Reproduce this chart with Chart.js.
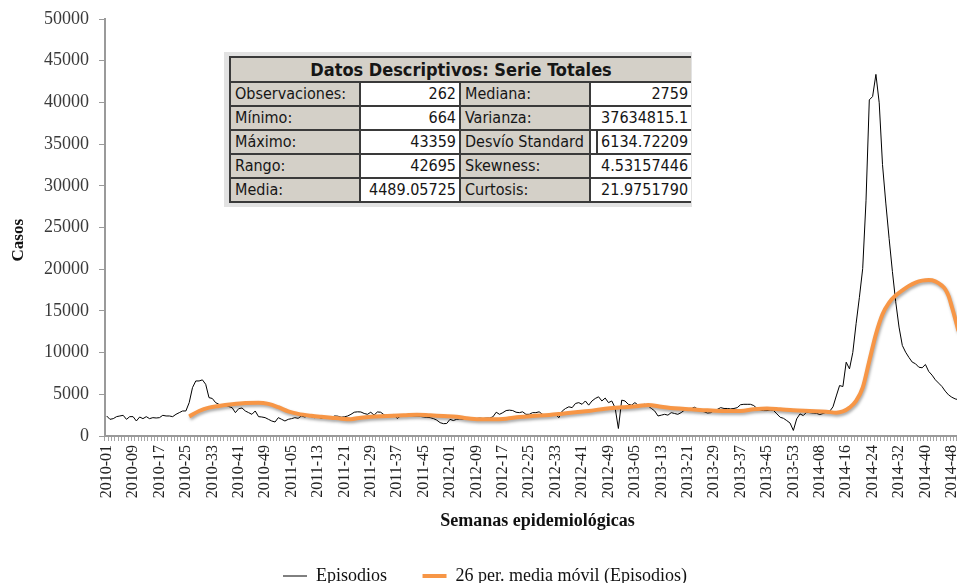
<!DOCTYPE html>
<html>
<head>
<meta charset="utf-8">
<script src="https://cdn.jsdelivr.net/npm/chart.js@4.4.1/dist/chart.umd.min.js"></script>
<style>
html,body{margin:0;padding:0;background:#fff;overflow:hidden;}
#wrap{position:relative;width:975px;height:595px;overflow:hidden;background:#fff;}
#c{position:absolute;left:0;top:0;}
#stats{position:absolute;left:224px;top:52px;width:468px;height:155px;background:#e2e2e2;}
#stats table{position:absolute;left:5px;top:4px;border-collapse:collapse;table-layout:fixed;width:461px;
  font-family:"DejaVu Sans Condensed","DejaVu Sans",sans-serif;font-size:16px;color:#161616;}
#stats th{height:23px;padding:0;background:#d4d0c8;font-weight:bold;font-size:18px;border:2px solid #3a3a3a;text-align:center;border-right:none;}
#stats td{height:22px;padding:0 3px 0 4px;border:2px solid #3a3a3a;white-space:nowrap;overflow:hidden;line-height:22px;}
#stats td.l{background:#d4d0c8;text-align:left;}
#stats td.v{background:#fff;text-align:right;}
#stats td:last-child{border-right:none;}
#stats td.dbl{background:linear-gradient(to right,#fff 0,#fff 5px,#3a3a3a 5px,#3a3a3a 7px,#fff 7px);}
</style>
</head>
<body>
<div id="wrap">
  <canvas id="c" width="975" height="595"></canvas>
  <div id="stats"><table id="stats-table">
    <colgroup><col style="width:130px"><col style="width:100px"><col style="width:130px"><col style="width:101px"></colgroup>
    <tbody id="stats-body"></tbody>
  </table></div>
</div>
<script>
// ---- categories (epidemiological weeks) ----
const years = [2010, 2011, 2012, 2013, 2014];
const weeksInYear = [52, 52, 52, 53, 53];
const weeks = [];
years.forEach((y, k) => {
  for (let w = 1; w <= weeksInYear[k]; w++) weeks.push(y + '-' + String(w).padStart(2, '0'));
});
const tickEvery = 8;

// ---- series: Episodios (weekly cases) ----
const episodios = [
  2400,2000,2080,2320,2400,2480,2000,2320,2320,1800,2280,2080,2320,2080,2200,2160,2200,2480,2400,2400,
  2320,2600,2800,3000,3000,4000,5800,6600,6600,6730,6200,4600,4500,4000,3800,3680,3680,3530,3400,2800,
  3280,3360,3000,2800,2600,3000,2320,2280,2200,2000,1800,1680,2200,2000,1800,2000,2080,2200,2120,2400,
  2280,2400,2320,2200,2280,2120,2200,2300,2200,2400,2380,2250,2300,2400,2600,2850,2900,2880,2700,2600,
  2850,2500,2880,2850,2550,2400,2450,2600,2100,2400,2350,2400,2450,2400,2400,2350,2280,2250,2200,2080,
  1900,1600,1480,1500,2000,1850,2000,2050,2000,2100,2150,2100,2100,2150,2100,2150,2150,2300,2850,2600,
  2800,3050,3100,3050,2850,2800,2900,2600,2600,2800,2800,2900,2600,2500,2450,2500,2550,2200,3000,3300,
  3500,3400,3900,4000,3800,4200,3700,4200,4500,4700,4200,4550,4000,4200,3400,900,4300,4200,3800,3700,
  4000,3700,3750,3800,3600,3300,3000,2400,2500,2600,2500,2800,2700,2600,2800,3100,3200,3250,3450,3250,
  3000,2900,2750,2800,3050,3200,3400,3300,3300,3250,3300,3400,3750,3800,3800,3800,3650,3300,3100,3050,
  3050,3100,3050,2650,2250,2120,1850,1550,664,2050,2650,2450,2850,2800,2750,2720,2570,2700,2850,2960,
  3500,4800,6050,5930,8850,8050,10000,13470,16630,20070,28200,40300,40700,43359,39950,32540,27930,23680,19710,16100,
  13060,10860,10050,9420,8860,8660,8250,8180,8575,7740,7300,6740,6340,5940,5380,4930,4650,4450,4350,
  null,null,null
];

// ---- series: 26 per. media móvil (read at sampled weeks) ----
const maWeeks = [
  '2010-26','2010-29','2010-32','2010-35','2010-39','2010-43','2010-47','2010-50',
  '2011-01','2011-04','2011-07','2011-11','2011-14','2011-17','2011-20','2011-23','2011-26','2011-29',
  '2011-34','2011-39','2011-43','2011-47','2011-51',
  '2012-03','2012-06','2012-10','2012-14','2012-18','2012-22','2012-26','2012-31','2012-35','2012-39',
  '2012-43','2012-48',
  '2013-01','2013-06','2013-09','2013-13','2013-17','2013-22','2013-27','2013-32','2013-37','2013-41',
  '2013-45','2013-49','2013-53',
  '2014-05','2014-10','2014-13','2014-15','2014-17','2014-19','2014-21','2014-23','2014-25','2014-27',
  '2014-29','2014-31','2014-33','2014-35','2014-37','2014-39','2014-41','2014-43','2014-45','2014-46',
  '2014-47','2014-48','2014-49','2014-50'
];
const maValues = [
  2350,3000,3400,3600,3800,3950,4000,3850,
  3450,2950,2650,2420,2300,2200,2080,2020,2200,2320,
  2400,2480,2560,2480,2400,
  2320,2130,2000,2000,2080,2280,2400,2520,2680,2850,
  3000,3280,
  3440,3600,3730,3520,3320,3200,3080,3000,3000,3200,
  3300,3200,3080,
  3000,2920,2800,2950,3400,4200,5800,9000,12200,14600,
  16000,16850,17450,18000,18400,18630,18700,18550,18030,17600,
  16800,15500,14100,12600
];

// ---- axis ----
const yMin = 0, yMax = 50000, yStep = 5000;
const seriesNames = ['Episodios', '26 per. media móvil (Episodios)'];
const axisTitles = { x: 'Semanas epidemiológicas', y: 'Casos' };

// ---- descriptive statistics table ----
const statsTitle = 'Datos Descriptivos: Serie Totales';
const statsLabelsLeft = ['Observaciones:', 'Mínimo:', 'Máximo:', 'Rango:', 'Media:'];
const statsValuesLeft = ['262', '664', '43359', '42695', '4489.05725'];
const statsLabelsRight = ['Mediana:', 'Varianza:', 'Desvío Standard', 'Skewness:', 'Curtosis:'];
const statsValuesRight = ['2759', '37634815.1', '6134.72209', '4.53157446', '21.9751790'];

let html = '<tr><th colspan="4">' + statsTitle + '</th></tr>';
for (let r = 0; r < statsLabelsLeft.length; r++) {
  html += '<tr><td class="l">' + statsLabelsLeft[r] + '</td><td class="v">' + statsValuesLeft[r] +
    '</td><td class="l">' + statsLabelsRight[r] + '</td><td class="v' + (r === 2 ? ' dbl' : '') + '">' +
    statsValuesRight[r] + '</td></tr>';
}
document.getElementById('stats-body').innerHTML = html;

// ---- chart ----
const serif = '"Liberation Serif", "Times New Roman", serif';
const shadowPlugin = {
  id: 'lineShadow',
  beforeDatasetDraw(chart, args) {
    if (args.index === 1) {
      const c = chart.ctx; c.save();
      c.shadowColor = 'rgba(0,0,0,0.35)'; c.shadowBlur = 3; c.shadowOffsetX = 1; c.shadowOffsetY = 2;
    }
  },
  afterDatasetDraw(chart, args) { if (args.index === 1) chart.ctx.restore(); }
};

new Chart(document.getElementById('c'), {
  type: 'line',
  data: {
    labels: weeks,
    datasets: [
      {
        label: seriesNames[0], data: episodios, borderColor: '#000000', backgroundColor: '#000000',
        borderWidth: 1, pointRadius: 0, tension: 0, order: 0
      },
      {
        label: seriesNames[1], data: maWeeks.map((w, i) => ({ x: w, y: maValues[i] })),
        borderColor: '#F79646', backgroundColor: '#F79646', borderWidth: 4, pointRadius: 0,
        cubicInterpolationMode: 'monotone', order: -1
      }
    ]
  },
  plugins: [shadowPlugin],
  options: {
    responsive: false,
    maintainAspectRatio: false,
    animation: false,
    devicePixelRatio: 1,
    layout: { padding: { left: 0, right: 5, top: 19, bottom: 0 } },
    plugins: {
      tooltip: { enabled: false },
      legend: {
        position: 'bottom',
        labels: {
          usePointStyle: true, pointStyle: 'line', pointStyleWidth: 24, padding: 4,
          color: '#111', font: { family: serif, size: 18 },
          sort: (a, b) => a.datasetIndex - b.datasetIndex,
          generateLabels(chart) {
            const items = Chart.defaults.plugins.legend.labels.generateLabels(chart);
            // trailing spaces keep the legend block centred where the original sits
            items[items.length - 1].text += '\u00a0\u00a0\u00a0\u00a0\u00a0\u00a0\u00a0';
            return items;
          }
        }
      }
    },
    scales: {
      x: {
        type: 'category',
        offset: true,
        afterFit(scale) { scale.height = 127; scale.paddingLeft = 0; scale.paddingRight = 0; },
        grid: { drawOnChartArea: false, drawTicks: true, tickLength: 5, color: '#a6a6a6', offset: true },
        border: { color: '#9a9a9a', width: 2 },
        ticks: {
          autoSkip: false, minRotation: 90, maxRotation: 90, padding: 4,
          color: '#222', font: { family: serif, size: 16 },
          callback(value, index) { return index % tickEvery === 0 ? weeks[index] : ''; }
        },
        title: {
          display: true, text: axisTitles.x, color: '#111',
          font: { family: serif, size: 18, weight: 'bold' }, padding: { top: 0, bottom: 31 }
        }
      },
      y: {
        min: yMin, max: yMax,
        afterFit(scale) { scale.width = 105; scale.paddingTop = 0; scale.paddingBottom = 0; },
        grid: { drawOnChartArea: false, drawTicks: true, tickLength: 6, color: '#9a9a9a' },
        border: { color: '#9a9a9a', width: 2 },
        ticks: {
          stepSize: yStep, padding: 10, color: '#3a3a3a', font: { family: serif, size: 18 },
          callback(value) { return String(value); }
        },
        title: {
          display: true, text: axisTitles.y + '\u00a0\u00a0\u00a0\u00a0\u00a0\u00a0', color: '#111',
          font: { family: serif, size: 17, weight: 'bold' }, padding: { top: 8, bottom: 0 }
        }
      }
    }
  }
});
</script>
</body>
</html>
